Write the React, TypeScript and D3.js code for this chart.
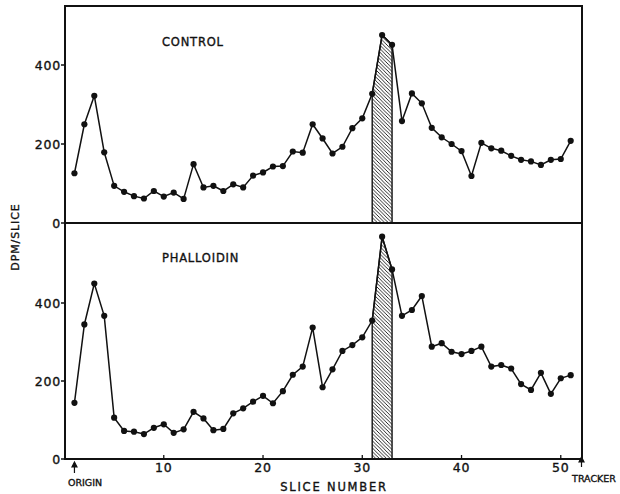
import React from "react";
import * as d3 from "d3";

const slices: number[] = d3.range(1, 52);
const controlValues: number[] = [
  126, 250, 322, 179, 94, 79, 68, 62, 81, 67, 77, 61, 149, 90, 94, 81, 98, 90, 120, 128,
  143, 144, 181, 178, 250, 214, 176, 193, 240, 265, 327, 476, 451, 258, 328, 303, 241, 217, 200, 182,
  119, 203, 189, 183, 170, 160, 156, 147, 160, 162, 208,
];
const phalloidinValues: number[] = [
  144, 345, 450, 367, 106, 72, 70, 64, 80, 89, 67, 76, 121, 104, 74, 77, 117, 130, 147, 162,
  143, 174, 216, 237, 337, 184, 230, 277, 292, 312, 355, 570, 486, 367, 382, 418, 288, 297, 275, 269,
  277, 288, 237, 241, 232, 192, 177, 221, 167, 207, 215,
];
const yTicks: number[] = [0, 200, 400];
const xTicks: number[] = [10, 20, 30, 40, 50];
const hatchRange: number[] = [31, 33];
const panelLabels: string[] = ["CONTROL", "PHALLOIDIN"];

const FONT = "'DejaVu Sans', 'Liberation Sans', sans-serif";
const textStyle = { stroke: "#111", strokeWidth: 0.35 };

export default function App() {
  const left = 65, right = 582, top = 6, mid = 223, bottom = 459;
  const x = d3.scaleLinear().domain([1, 51]).range([74.45, 570.7]);
  const yTop = d3.scaleLinear().domain([0, 400]).range([223, 65]);
  const yBot = d3.scaleLinear().domain([0, 400]).range([459, 303]);

  const panels = [
    { values: controlValues, y: yTop, label: panelLabels[0], labelY: 46 },
    { values: phalloidinValues, y: yBot, label: panelLabels[1], labelY: 262 },
  ];

  return (
    <svg width={620} height={494} style={{ position: "absolute", left: 0, top: 0, background: "#fff" }}>
      <defs>
        <pattern id="hatch" patternUnits="userSpaceOnUse" width={3.6} height={3.6}>
          <path d="M0,0 L3.6,3.6 M-1,2.6 L1,4.6 M2.6,-1 L4.6,1" stroke="#111" strokeWidth={0.9} />
        </pattern>
      </defs>
      {panels.map((p, pi) => {
        const line = d3
          .line<number>()
          .x((_, i) => x(slices[i]))
          .y((v) => p.y(v));
        const idx0 = slices.indexOf(hatchRange[0]);
        const idx1 = slices.indexOf(hatchRange[1]);
        const hatchPts: [number, number][] = [[x(hatchRange[0]), p.y(0)]];
        for (let i = idx0; i <= idx1; i++) hatchPts.push([x(slices[i]), p.y(p.values[i])]);
        hatchPts.push([x(hatchRange[1]), p.y(0)]);
        return (
          <g key={pi}>
            <path
              d={"M" + hatchPts.map((q) => q.join(",")).join("L") + "Z"}
              fill="url(#hatch)"
              stroke="#111"
              strokeWidth={1.4}
            />
            <path d={line(p.values) || ""} fill="none" stroke="#111" strokeWidth={1.5} />
            {p.values.map((v, i) => (
              <circle key={i} cx={x(slices[i])} cy={p.y(v)} r={3.1} fill="#111" />
            ))}
            {yTicks.map((t) => (
              <g key={t}>
                <line x1={left - 4} x2={left} y1={p.y(t)} y2={p.y(t)} stroke="#111" strokeWidth={1.5} />
                <text
                  x={left - 4}
                  y={p.y(t)}
                  dy="0.36em"
                  textAnchor="end"
                  fontFamily={FONT}
                  fontSize={12.5}
                  letterSpacing={0.8}
                  fill="#111"
                  style={textStyle}
                >
                  {t}
                </text>
              </g>
            ))}
            <text x={162} y={p.labelY} fontFamily={FONT} fontSize={11.5} fill="#111" letterSpacing={0.8} style={textStyle}>
              {p.label}
            </text>
          </g>
        );
      })}
      {xTicks.map((t) => (
        <g key={t}>
          <line x1={x(t)} x2={x(t)} y1={bottom} y2={bottom - 4} stroke="#111" strokeWidth={1.3} />
          <text
            x={x(t)}
            y={467}
            dy="0.36em"
            textAnchor="middle"
            fontFamily={FONT}
            fontSize={12.5}
            letterSpacing={0.8}
            fill="#111"
            style={textStyle}
          >
            {t}
          </text>
        </g>
      ))}
      <rect x={left} y={top} width={right - left} height={bottom - top} fill="none" stroke="#111" strokeWidth={2} />
      <line x1={left} x2={right} y1={mid} y2={mid} stroke="#111" strokeWidth={2} />
      <text
        transform="translate(15,237) rotate(-90)"
        textAnchor="middle"
        dy="0.36em"
        fontFamily={FONT}
        fontSize={11}
        fill="#111"
        letterSpacing={0.9}
        style={textStyle}
      >
        DPM/SLICE
      </text>
      <text
        x={334}
        y={487}
        dy="0.36em"
        textAnchor="middle"
        fontFamily={FONT}
        fontSize={11.5}
        fill="#111"
        letterSpacing={1.8}
        style={textStyle}
      >
        SLICE  NUMBER
      </text>
      <g stroke="#111" strokeWidth={1.2} fill="#111">
        <line x1={x(1)} x2={x(1)} y1={464} y2={473} />
        <path d={`M${x(1) - 2.5},467 L${x(1)},462 L${x(1) + 2.5},467 Z`} />
        <line x1={581.5} x2={581.5} y1={459} y2={467} />
        <path d={`M579,462 L581.5,457 L584,462 Z`} />
      </g>
      <text x={85} y={483} dy="0.36em" textAnchor="middle" fontFamily={FONT} fontSize={9.5} fill="#111" style={textStyle}>
        ORIGIN
      </text>
      <text x={594} y={479} dy="0.36em" textAnchor="middle" fontFamily={FONT} fontSize={9.5} fill="#111" style={textStyle}>
        TRACKER
      </text>
    </svg>
  );
}
